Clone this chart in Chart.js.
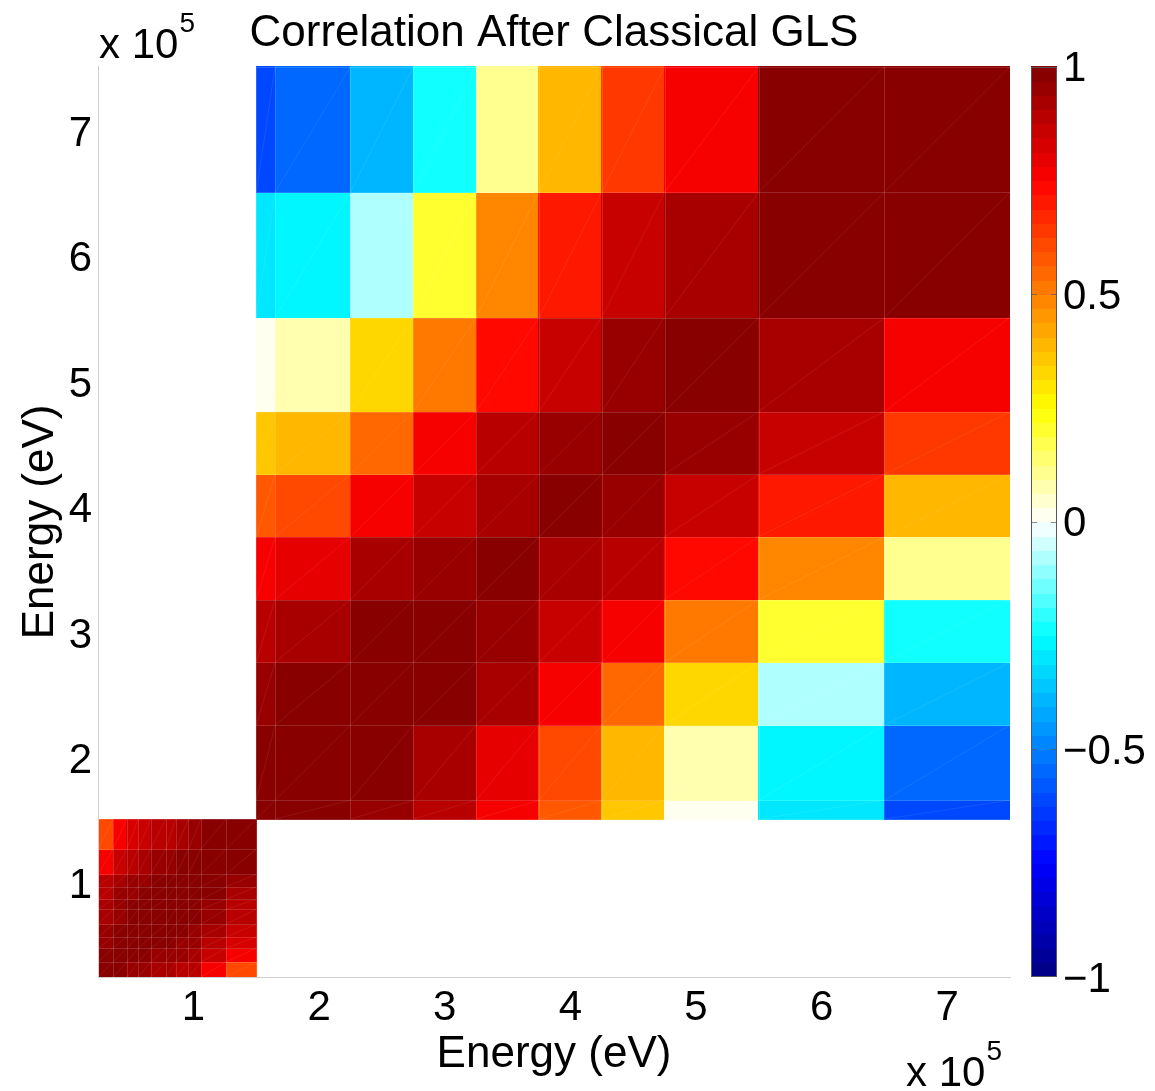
<!DOCTYPE html>
<html>
<head>
<meta charset="utf-8">
<script src="https://cdn.jsdelivr.net/npm/chart.js@4.4.1/dist/chart.umd.min.js"></script>
<style>
  html, body { margin: 0; padding: 0; background: #fff; }
  #wrap { width: 1155px; height: 1091px; }
</style>
</head>
<body>
<div id="wrap"><canvas id="corr" width="1155" height="1091"></canvas></div>
<script>
// Correlation matrix after classical GLS, energies in units of 1e5 eV.

const FONT = "'Liberation Sans', Arial, Helvetica, sans-serif";

const axisTicks = [1, 2, 3, 4, 5, 6, 7];
const colorbarTicks = [-1, -0.5, 0, 0.5, 1];

// fine bins below 1.5e5 eV
const lowEdges = [0.24, 0.36, 0.47, 0.56, 0.66, 0.78, 0.86, 0.96, 1.06, 1.26, 1.5];
const lowCorr = [
  [1.00, 0.97, 0.95, 0.94, 0.93, 0.92, 0.90, 0.88, 0.78, 0.60],
  [0.97, 1.00, 0.98, 0.97, 0.96, 0.95, 0.94, 0.92, 0.86, 0.77],
  [0.95, 0.98, 1.00, 0.99, 0.98, 0.97, 0.96, 0.94, 0.89, 0.82],
  [0.94, 0.97, 0.99, 1.00, 0.99, 0.98, 0.97, 0.96, 0.92, 0.86],
  [0.93, 0.96, 0.98, 0.99, 1.00, 0.99, 0.98, 0.97, 0.95, 0.89],
  [0.92, 0.95, 0.97, 0.98, 0.99, 1.00, 0.99, 0.98, 0.96, 0.90],
  [0.90, 0.94, 0.96, 0.97, 0.98, 0.99, 1.00, 0.99, 0.97, 0.92],
  [0.88, 0.92, 0.94, 0.96, 0.97, 0.98, 0.99, 1.00, 0.98, 0.94],
  [0.78, 0.86, 0.89, 0.92, 0.95, 0.96, 0.97, 0.98, 1.00, 0.97],
  [0.60, 0.77, 0.82, 0.86, 0.89, 0.90, 0.92, 0.94, 0.97, 1.00],
];

// coarse bins from 1.5e5 to 7.5e5 eV
const highEdges = [1.5, 1.65, 2.25, 2.75, 3.25, 3.75, 4.25, 4.75, 5.5, 6.5, 7.5];
const highCorr = [
  [ 1.00,  0.98,  0.96,  0.90, 0.78, 0.58, 0.37, 0.00, -0.30, -0.62],
  [ 0.98,  1.00,  0.97,  0.92, 0.80, 0.62, 0.40, 0.08, -0.28, -0.55],
  [ 0.96,  0.97,  1.00,  0.97, 0.91, 0.77, 0.54, 0.32, -0.08, -0.38],
  [ 0.90,  0.92,  0.97,  1.00, 0.96, 0.87, 0.75, 0.50,  0.20, -0.22],
  [ 0.78,  0.80,  0.91,  0.96, 1.00, 0.93, 0.89, 0.72,  0.47,  0.10],
  [ 0.58,  0.62,  0.77,  0.87, 0.93, 1.00, 0.95, 0.87,  0.70,  0.40],
  [ 0.37,  0.40,  0.54,  0.75, 0.89, 0.95, 1.00, 0.96,  0.85,  0.64],
  [ 0.00,  0.08,  0.32,  0.50, 0.72, 0.87, 0.96, 1.00,  0.93,  0.78],
  [-0.30, -0.28, -0.08,  0.20, 0.47, 0.70, 0.85, 0.93,  1.00,  0.98],
  [-0.62, -0.55, -0.38, -0.22, 0.10, 0.40, 0.64, 0.78,  0.98,  1.00],
];

// jet-like map with white at zero, 64 levels like matlab
const colorStops = [
  [-1.00, [0, 0, 128]],
  [-0.75, [0, 0, 255]],
  [-0.25, [0, 255, 255]],
  [ 0.00, [255, 255, 255]],
  [ 0.25, [255, 255, 0]],
  [ 0.75, [255, 0, 0]],
  [ 1.00, [128, 0, 0]],
];
const LEVELS = 64;

function colorFor(v) {
  let k = Math.floor((v + 1) / 2 * LEVELS);
  k = Math.max(0, Math.min(LEVELS - 1, k));
  const q = -1 + (k + 0.5) * 2 / LEVELS;
  for (let i = 0; i < colorStops.length - 1; i++) {
    const [a, ca] = colorStops[i], [b, cb] = colorStops[i + 1];
    if (q >= a && q <= b) {
      const t = (q - a) / (b - a);
      const c = ca.map((x, n) => Math.round(x + (cb[n] - x) * t));
      return `rgb(${c[0]},${c[1]},${c[2]})`;
    }
  }
  return 'rgb(128,0,0)';
}

function drawBlock(ctx, xs, ys, edges, corr) {
  for (let i = 0; i < corr.length; i++) {
    for (let j = 0; j < corr[i].length; j++) {
      const x0 = Math.floor(xs.getPixelForValue(edges[j]));
      const x1 = Math.ceil(xs.getPixelForValue(edges[j + 1]));
      const y0 = Math.floor(ys.getPixelForValue(edges[i + 1]));
      const y1 = Math.ceil(ys.getPixelForValue(edges[i]));
      ctx.fillStyle = colorFor(corr[i][j]);
      ctx.fillRect(x0, y0, x1 - x0, y1 - y0);
    }
  }
  // faint mesh edges + triangle diagonals like the surface render
  ctx.save();
  ctx.lineWidth = 1;
  ctx.strokeStyle = 'rgba(255,255,255,0.08)';
  ctx.beginPath();
  for (let i = 0; i < corr.length; i++) {
    for (let j = 0; j < corr[i].length; j++) {
      ctx.moveTo(xs.getPixelForValue(edges[j]), ys.getPixelForValue(edges[i]));
      ctx.lineTo(xs.getPixelForValue(edges[j + 1]), ys.getPixelForValue(edges[i + 1]));
    }
  }
  ctx.stroke();
  ctx.strokeStyle = 'rgba(255,255,255,0.15)';
  const xa = xs.getPixelForValue(edges[0]), xb = xs.getPixelForValue(edges[edges.length - 1]);
  const ya = ys.getPixelForValue(edges[0]), yb = ys.getPixelForValue(edges[edges.length - 1]);
  ctx.beginPath();
  edges.forEach(e => {
    const px = Math.round(xs.getPixelForValue(e)) + 0.5;
    const py = Math.round(ys.getPixelForValue(e)) + 0.5;
    ctx.moveTo(px, ya); ctx.lineTo(px, yb);
    ctx.moveTo(xa, py); ctx.lineTo(xb, py);
  });
  ctx.stroke();
  ctx.restore();
}

function drawExponent(ctx, x, y) {
  ctx.font = `42px ${FONT}`;
  ctx.fillStyle = '#000';
  ctx.textAlign = 'left';
  ctx.textBaseline = 'alphabetic';
  ctx.fillText('x 10', x, y);
  const w = ctx.measureText('x 10').width;
  ctx.font = `28px ${FONT}`;
  ctx.fillText('5', x + w + 1, y - 26);
}

const heatmapPlugin = {
  id: 'heatmap',
  beforeDraw(chart) {
    const { ctx, scales: { x, y } } = chart;
    ctx.save();
    drawBlock(ctx, x, y, lowEdges, lowCorr);
    drawBlock(ctx, x, y, highEdges, highCorr);
    ctx.restore();
  },
  afterDraw(chart) {
    const { ctx, scales: { cb } } = chart;
    ctx.save();
    // colour bar strip
    const left = cb.left + 21, w = 26;
    for (let k = 0; k < LEVELS; k++) {
      const v0 = -1 + 2 * k / LEVELS, v1 = -1 + 2 * (k + 1) / LEVELS;
      const yt = Math.floor(cb.getPixelForValue(v1));
      const yb = Math.ceil(cb.getPixelForValue(v0));
      ctx.fillStyle = colorFor((v0 + v1) / 2);
      ctx.fillRect(left, yt, w, yb - yt);
    }
    const top = cb.getPixelForValue(1), bot = cb.getPixelForValue(-1);
    ctx.strokeStyle = '#555';
    ctx.lineWidth = 1;
    ctx.strokeRect(left + 0.5, Math.round(top) + 0.5, w - 1, Math.round(bot - top) - 1);
    ctx.strokeStyle = 'rgba(90,90,90,0.7)';
    colorbarTicks.slice(1, -1).forEach(v => {
      const py = Math.round(cb.getPixelForValue(v)) + 0.5;
      ctx.beginPath();
      ctx.moveTo(left, py); ctx.lineTo(left + 6, py);
      ctx.moveTo(left + w - 6, py); ctx.lineTo(left + w, py);
      ctx.stroke();
    });
    drawExponent(ctx, 99, 58);
    drawExponent(ctx, 906, 1086);
    ctx.restore();
  },
};

const tickFont = { family: FONT, size: 42 };
const labelFont = { family: FONT, size: 44 };

new Chart(document.getElementById('corr'), {
  type: 'scatter',
  data: { datasets: [] },
  plugins: [heatmapPlugin],
  options: {
    responsive: false,
    animation: false,
    devicePixelRatio: 1,
    layout: { padding: 0 },
    plugins: {
      legend: { display: false },
      tooltip: { enabled: false },
      title: {
        display: true,
        fullSize: false,
        text: 'Correlation After Classical GLS',
        color: '#000',
        font: { family: FONT, size: 44, weight: 'normal', lineHeight: 1.2 },
        padding: { top: 7, bottom: 7 },
      },
    },
    scales: {
      x: {
        type: 'linear', position: 'bottom', min: 0.24, max: 7.5,
        afterBuildTicks: s => { s.ticks = axisTicks.map(v => ({ value: v })); },
        afterFit: s => { s.height = 114; },
        grid: { display: false, drawTicks: false },
        border: { display: true, color: '#cfcfcf', width: 1 },
        ticks: { color: '#000', font: tickFont, padding: 6, autoSkip: false, maxRotation: 0 },
        title: { display: true, text: 'Energy (eV)', color: '#000', font: labelFont, padding: { top: 0, bottom: 10 } },
      },
      y: {
        type: 'linear', position: 'left', min: 0.24, max: 7.5,
        afterBuildTicks: s => { s.ticks = axisTicks.map(v => ({ value: v })); },
        afterFit: s => { s.width = 98; },
        grid: { display: false, drawTicks: false },
        border: { display: true, color: '#cfcfcf', width: 1 },
        ticks: { color: '#000', font: tickFont, padding: 6, autoSkip: false, labelOffset: 5 },
        title: { display: true, text: 'Energy (eV)', color: '#000', font: labelFont, padding: { top: 14, bottom: 0 } },
      },
      cb: {
        type: 'linear', position: 'right', min: -1, max: 1,
        afterBuildTicks: s => { s.ticks = colorbarTicks.map(v => ({ value: v })); },
        afterFit: s => { s.width = 145; },
        grid: { display: false, drawTicks: true, tickLength: 50 },
        border: { display: false },
        ticks: {
          color: '#000', font: tickFont, padding: 3, autoSkip: false, labelOffset: 3,
          callback: v => (v < 0 ? '\u2212' + String(-v) : String(v)),
        },
      },
    },
  },
});
</script>
</body>
</html>
